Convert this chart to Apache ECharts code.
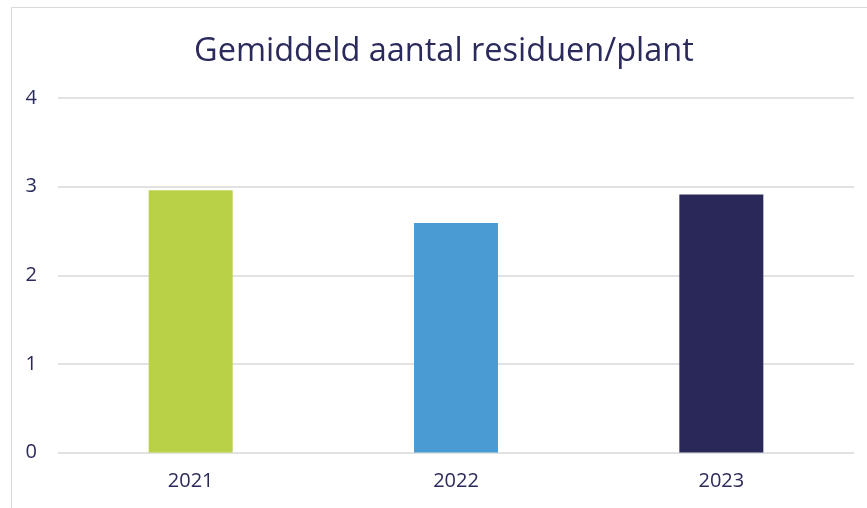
<!DOCTYPE html>
<html><head><meta charset="utf-8">
<script src="https://cdn.jsdelivr.net/npm/echarts@6/dist/echarts.min.js"></script>
<style>html,body{margin:0;padding:0;background:#fff}#c{width:867px;height:508px}</style>
</head><body><div id="c"></div>
<script>
const categories = ['2021', '2022', '2023'];
const values = [2.96, 2.59, 2.91];
const barColors = ['#B8D146', '#4A9BD3', '#292858'];
const titleText = 'Gemiddeld aantal residuen/plant';

const chart = echarts.init(document.getElementById('c'));
chart.setOption({
  animation: false,
  backgroundColor: '#fff',
  graphic: [{type: 'rect', shape: {x: 11.5, y: 7.5, width: 900, height: 600},
    style: {fill: 'none', stroke: '#D9D9D9', lineWidth: 1}, z: -1}],
  title: {text: titleText, left: 189, top: 30,
    textStyle: {fontFamily: 'Open Sans', fontWeight: 'normal', fontSize: 32.5, color: '#2B2A5C'}},
  grid: {left: 58, right: 13, top: 98, bottom: 55.5},
  xAxis: {type: 'category', data: categories,
    axisLine: {show: false}, axisTick: {show: false},
    axisLabel: {margin: 19, fontFamily: 'Open Sans', fontSize: 20, color: '#2B2A5C'}},
  yAxis: {type: 'value', min: 0, max: 4, interval: 1,
    axisLine: {show: false}, axisTick: {show: false},
    splitLine: {lineStyle: {color: '#D9D9D9', width: 1.5}},
    axisLabel: {margin: 21, fontFamily: 'Open Sans', fontSize: 20, color: '#2B2A5C'}},
  series: [{type: 'bar', barWidth: 84,
    data: values.map((v, i) => ({value: v, itemStyle: {color: barColors[i]}}))}]
});
</script></body></html>
